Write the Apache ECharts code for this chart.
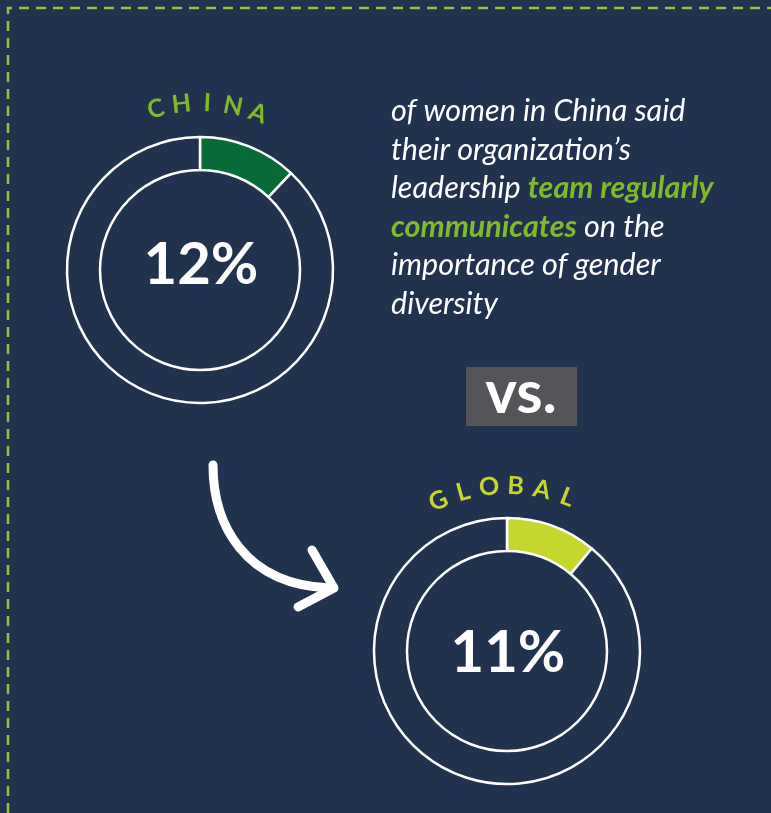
<!DOCTYPE html>
<html>
<head>
<meta charset="utf-8">
<script src="https://cdn.jsdelivr.net/npm/echarts@6/dist/echarts.min.js"></script>
<style>
  html, body { margin: 0; padding: 0; background: #21324f; }
  #main { width: 771px; height: 813px; }
</style>
</head>
<body>
<div id="main"></div>
<script>
// 数据
var regions = ['CHINA', 'GLOBAL'];
var shares = [12, 11];
var regionColors = ['#086b37', '#c5d72e'];
var titleColors = ['#7dba2c', '#c5d72e'];

var bg = '#21324f';
var centers = [[200, 270], [507, 651]];
var chart = echarts.init(document.getElementById('main'));

var series = regions.map(function (name, i) {
  return {
    name: name,
    type: 'pie',
    center: centers[i],
    radius: [100, 133],
    startAngle: 90,
    clockwise: true,
    silent: true,
    label: { show: false },
    labelLine: { show: false },
    itemStyle: { borderColor: '#ffffff', borderWidth: 2.5 },
    data: [
      {
        value: shares[i],
        name: name,
        itemStyle: { color: regionColors[i] },
        label: {
          show: true,
          position: 'center',
          formatter: '{c}%',
          color: '#ffffff',
          fontFamily: 'Lato',
          fontWeight: 'bold',
          fontSize: 58,
          offset: [1, i === 0 ? -5 : 2]
        }
      },
      { value: 100 - shares[i], name: 'other', itemStyle: { color: bg } }
    ]
  };
});

// 圆弧标题文字
var arcStart = [-15.3, -24.6];
var arcStep = [8.9, 9.2];
var arcR = [167, 165];
var graphics = [];
regions.forEach(function (name, i) {
  name.split('').forEach(function (ch, k) {
    var a = (arcStart[i] + arcStep[i] * k) * Math.PI / 180;
    graphics.push({
      type: 'text',
      x: centers[i][0] + arcR[i] * Math.sin(a),
      y: centers[i][1] - arcR[i] * Math.cos(a),
      rotation: -a,
      style: {
        text: ch, x: 0, y: 0,
        fill: titleColors[i],
        font: 'bold 25px Lato',
        align: 'center', verticalAlign: 'middle'
      }
    });
  });
});

// 虚线边框
graphics.push({
  type: 'polyline',
  shape: { points: [[8, 813], [8, 8], [771, 8]] },
  style: { stroke: '#8dc63f', lineWidth: 2.5, lineDash: [10, 7], fill: null }
});

// 说明文字
graphics.push({
  type: 'text',
  x: 391, y: 92,
  style: {
    text: 'of women in China said\ntheir organization\u2019s\nleadership {g|team regularly}\n{g|communicates} on the\nimportance of gender\ndiversity',
    fill: '#ffffff',
    font: 'italic 30.5px Lato',
    lineHeight: 38.5,
    rich: {
      g: { fill: '#7dba2c', font: 'italic bold 30.5px Lato', lineHeight: 38.5 }
    }
  }
});

// vs. 方块
graphics.push({
  type: 'rect',
  shape: { x: 466, y: 367, width: 111, height: 59 },
  style: { fill: '#545559' }
});
graphics.push({
  type: 'text',
  x: 521, y: 394,
  style: {
    text: 'vs.', fill: '#ffffff', font: 'bold 60px Lato',
    align: 'center', verticalAlign: 'middle'
  }
});

// 箭头
graphics.push({
  type: 'bezierCurve',
  shape: { x1: 213, y1: 465, cpx1: 213, cpy1: 525, cpx2: 245, cpy2: 585, x2: 330, y2: 588 },
  style: { stroke: '#ffffff', lineWidth: 9, lineCap: 'round', fill: null }
});
graphics.push({
  type: 'polyline',
  shape: { points: [[312, 550], [334, 588], [298, 607]] },
  style: { stroke: '#ffffff', lineWidth: 9, lineCap: 'round', lineJoin: 'round', fill: null }
});

chart.setOption({
  backgroundColor: bg,
  animation: false,
  series: series,
  graphic: graphics
});
</script>
</body>
</html>
